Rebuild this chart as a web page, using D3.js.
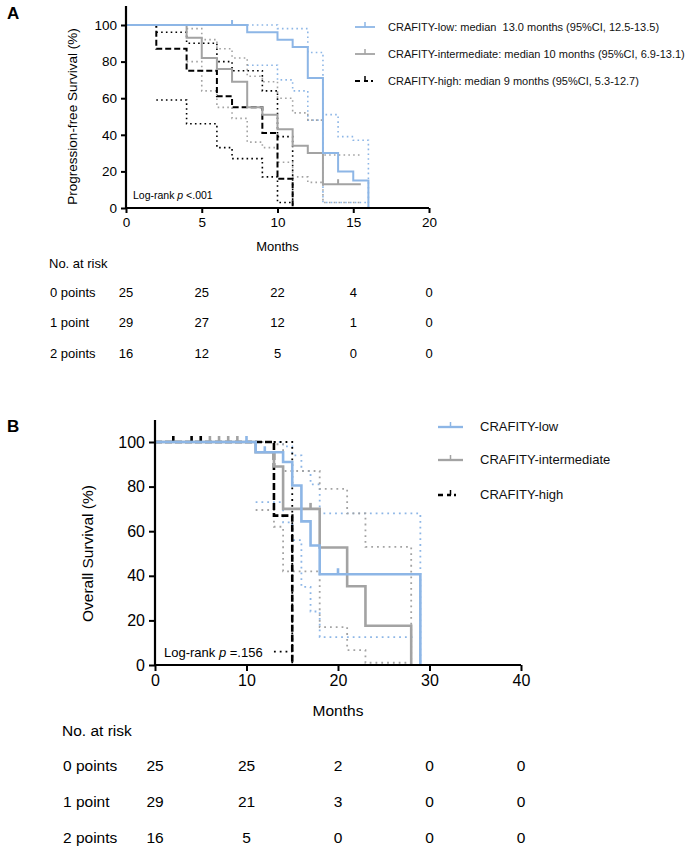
<!DOCTYPE html>
<html><head><meta charset="utf-8">
<script src="https://cdn.jsdelivr.net/npm/d3@7"></script>
<style>
html,body{margin:0;padding:0;background:#fff;}
svg{display:block;font-family:"Liberation Sans",Arial,sans-serif;}
text{white-space:pre;}
</style></head>
<body>
<svg id="chart" width="685" height="853"></svg>
<script>
// ---------- Panel A: Progression-free survival ----------
const pfsLow      = [[0,100],[8,96],[10,92],[11,88],[12,71],[13,30],[14,20],[15,15],[16,0]];
const pfsLowUpper = [[8,100],[10,98],[12,85],[13,51],[14,39],[15,37],[16,0]];
const pfsLowLower = [[8,78],[10,70],[11,64],[12,48],[13,3],[16,3]];
const pfsInt      = [[0,100],[4,93],[5,82],[6,76],[7,69],[8,55],[9,51],[10,43],[11,34],[12,30],[13,13],[15.5,13]];
const pfsIntUpper = [[4,98],[5,92],[6,87],[7,82],[8,72],[9,69],[10,60],[11,52],[12,48],[13,29],[15.5,29]];
const pfsIntLower = [[4,80],[5,64],[6,55],[7,49],[8,36],[9,33],[10,25],[11,17],[12,14],[13,3],[15.5,3]];
const pfsHigh      = [[0,100],[2,87],[4,75],[6,61],[7,55],[9,41],[10,16],[11,0]];
const pfsHighUpper = [[2,96],[4,90],[6,80],[7,75],[9,64],[10,39],[11,0]];
const pfsHighLower = [[2,59],[4,46],[6,33],[7,27],[9,17],[10,3],[11,3]];
const pfsCensorLow = [[7,100]];
const pfsCensorInt = [[14,13]];
const pfsCensorHigh = [];

// ---------- Panel B: Overall survival ----------
const osLow      = [[0,100],[11,95.4],[14,91],[15,80.5],[16,64.4],[17,53.6],[18,40.7],[29,0]];
const osLowUpper = [[11,100],[14,98],[15,94],[16,87],[17,81],[18,68],[29,0]];
const osLowLower = [[11,73],[14,64],[15,56],[16,35],[17,24],[18,12.5],[28.5,12.5]];
const osInt      = [[0,100],[11,95.4],[13,89],[14,70],[18,52.7],[21,35.3],[23,17.6],[28,0]];
const osIntUpper = [[11,100],[13,99],[14,87],[18,79],[21,68],[23,53],[28,0]];
const osIntLower = [[11,69.5],[13,62],[14,42],[18,17],[21,6.7],[23,1],[28,1]];
const osHigh      = [[0,100],[13,67],[15,0]];
const osHighUpper = [[13,100],[15,0]];
const osHighLower = [[13,6],[15,6]];
const osCensorLow  = [[10,100],[12,95.4],[20,40.7]];
const osCensorInt  = [[6,100],[7,100],[8,100],[9,100],[17,70]];
const osCensorHigh = [[2,100],[4,100],[5,100]];

// ---------- Tick labels, legends, risk tables ----------
const yTicks = [0,20,40,60,80,100];
const xTicksA = [0,5,10,15,20];
const xTicksB = [0,10,20,30,40];
const riskGroups = ["0 points","1 point","2 points"];
const riskA = [[25,25,22,4,0],[29,27,12,1,0],[16,12,5,0,0]];
const riskB = [[25,25,2,0,0],[29,21,3,0,0],[16,5,0,0,0]];
const legendA = ["CRAFITY-low: median  13.0 months (95%CI, 12.5-13.5)",
                 "CRAFITY-intermediate: median 10 months (95%CI, 6.9-13.1)",
                 "CRAFITY-high: median 9 months (95%CI, 5.3-12.7)"];
const legendB = ["CRAFITY-low","CRAFITY-intermediate","CRAFITY-high"];

const BLUE = "#8db6e6", GREY = "#a3a3a3", BLACK = "#000";
const svg = d3.select("#chart");

function panel(cfg){
  const g = svg.append("g");
  const x = d3.scaleLinear().domain([0, cfg.xmax]).range([cfg.x0, cfg.x1]);
  const y = d3.scaleLinear().domain([0, 100]).range([cfg.y0, cfg.y1]);
  const line = d3.line().x(d=>x(d[0])).y(d=>y(d[1])).curve(d3.curveStepAfter);

  // CI dotted lines
  cfg.series.forEach(s=>{
    [s.upper, s.lower].forEach(ci=>{
      g.append("path").attr("d", line(ci)).attr("fill","none")
        .attr("stroke", s.ciColor).attr("stroke-width", cfg.ciw)
        .attr("stroke-dasharray", cfg.dot).attr("stroke-linecap","butt");
    });
  });
  // curves
  cfg.series.slice().reverse().forEach(s=>{
    g.append("path").attr("d", line(s.curve)).attr("fill","none")
      .attr("stroke", s.color).attr("stroke-width", cfg.lw)
      .attr("stroke-dasharray", s.dash || null);
    g.selectAll(null).data(s.censor).enter().append("line")
      .attr("x1", d=>x(d[0])).attr("x2", d=>x(d[0]))
      .attr("y1", d=>y(d[1])-cfg.tick).attr("y2", d=>y(d[1]))
      .attr("stroke", s.color).attr("stroke-width", cfg.lw);
  });

  // axes
  const ax = g.append("g").attr("transform", `translate(0,${cfg.y0})`)
    .call(d3.axisBottom(x).tickValues(cfg.xTicks).tickSize(cfg.tickLen).tickPadding(4));
  const ay = g.append("g").attr("transform", `translate(${cfg.x0},0)`)
    .call(d3.axisLeft(y).tickValues(yTicks).tickSize(cfg.tickLen).tickPadding(4));
  [ax, ay].forEach(a=>{
    a.select(".domain").remove();
    a.selectAll("line").attr("stroke","#000").attr("stroke-width",2);
    a.selectAll("text").attr("font-size", cfg.tfs).attr("fill","#000")
      .attr("font-family","Liberation Sans, Arial, sans-serif");
  });
  g.append("line").attr("x1",cfg.x0).attr("x2",cfg.x0).attr("y1",cfg.y0+1).attr("y2",cfg.ytop)
    .attr("stroke","#000").attr("stroke-width",2.2);
  g.append("line").attr("x1",cfg.x0-1).attr("x2",cfg.x1).attr("y1",cfg.y0).attr("y2",cfg.y0)
    .attr("stroke","#000").attr("stroke-width",2.2);

  // axis titles
  g.append("text").attr("x", (cfg.x0+cfg.x1)/2).attr("y", cfg.monthsY)
    .attr("text-anchor","middle").attr("font-size", cfg.mfs).text("Months");
  g.append("text").attr("transform", `translate(${cfg.ylabX},${(cfg.y0+cfg.y1)/2}) rotate(-90)`)
    .attr("text-anchor","middle").attr("font-size", cfg.yfs).text(cfg.ylab);
  // panel letter
  g.append("text").attr("x", cfg.letterX).attr("y", cfg.letterY).attr("font-size", 17)
    .attr("font-weight","bold").text(cfg.letter);
  // log-rank
  const lr = g.append("text").attr("x", cfg.lrX).attr("y", cfg.lrY).attr("font-size", cfg.lrfs);
  lr.append("tspan").text("Log-rank ");
  lr.append("tspan").attr("font-style","italic").text("p");
  lr.append("tspan").text(" " + cfg.lrText);

  // legend
  cfg.legend.forEach((t,i)=>{
    const s = cfg.series[i];
    const ly = cfg.legY[i];
    g.append("line").attr("x1", cfg.legX0).attr("x2", cfg.legX1).attr("y1", ly).attr("y2", ly)
      .attr("stroke", s.color).attr("stroke-width", cfg.lw*0.9)
      .attr("stroke-dasharray", s.dash ? "5,4,4,3,2,10" : null);
    const mx = (cfg.legX0+cfg.legX1)/2;
    g.append("line").attr("x1", mx).attr("x2", mx).attr("y1", ly-5).attr("y2", ly)
      .attr("stroke", s.color).attr("stroke-width", 1.5);
    g.append("text").attr("x", cfg.legTextX).attr("y", ly+4).attr("font-size", cfg.lfs)
      .attr("fill","#111").text(t);
  });

  // risk table
  g.append("text").attr("x", cfg.riskLabX-1).attr("y", cfg.riskHeadY).attr("font-size", cfg.rfs).text("No. at risk");
  cfg.risk.forEach((row,i)=>{
    const ry = cfg.riskRowY[i];
    g.append("text").attr("x", cfg.riskLabX).attr("y", ry).attr("font-size", cfg.rfs).text(riskGroups[i]);
    g.selectAll(null).data(row).enter().append("text")
      .attr("x", (d,j)=>x(cfg.xTicks[j])).attr("y", ry).attr("text-anchor","middle")
      .attr("font-size", cfg.rfs).text(d=>d);
  });
}

panel({
  letter:"A", letterX:7, letterY:19,
  xmax:20, x0:126, x1:429, y0:208, y1:25, ytop:6,
  xTicks:xTicksA, tickLen:5, tfs:13.5, mfs:13, yfs:13.5, monthsY:251,
  ylab:"Progression-free Survival (%)", ylabX:77,
  lw:2, ciw:1.6, dot:"1.6,3.2", tick:5,
  lrX:133, lrY:199, lrfs:10.5, lrText:"<.001",
  legend:legendA, legX0:355, legX1:375, legTextX:388, legY:[27,54,81], lfs:11,
  risk:riskA, riskLabX:50, riskHeadY:268, riskRowY:[297,327,358], rfs:13,
  series:[
    {curve:pfsLow, upper:pfsLowUpper, lower:pfsLowLower, color:BLUE, ciColor:BLUE, censor:pfsCensorLow},
    {curve:pfsInt, upper:pfsIntUpper, lower:pfsIntLower, color:GREY, ciColor:GREY, censor:pfsCensorInt},
    {curve:pfsHigh, upper:pfsHighUpper, lower:pfsHighLower, color:BLACK, ciColor:BLACK, censor:pfsCensorHigh, dash:"6,3"}
  ]
});

panel({
  letter:"B", letterX:7, letterY:432,
  xmax:40, x0:155, x1:521, y0:665, y1:442, ytop:420,
  xTicks:xTicksB, tickLen:6, tfs:16, mfs:15.5, yfs:15.5, monthsY:716,
  ylab:"Overall Survival (%)", ylabX:93,
  lw:2.6, ciw:1.8, dot:"1.8,4", tick:6,
  lrX:164, lrY:657, lrfs:13, lrText:"=.156",
  legend:legendB, legX0:438, legX1:463, legTextX:480, legY:[427,460,495], lfs:13,
  risk:riskB, riskLabX:63, riskHeadY:736, riskRowY:[771,807,843], rfs:15.5,
  series:[
    {curve:osLow, upper:osLowUpper, lower:osLowLower, color:BLUE, ciColor:BLUE, censor:osCensorLow},
    {curve:osInt, upper:osIntUpper, lower:osIntLower, color:GREY, ciColor:GREY, censor:osCensorInt},
    {curve:osHigh, upper:osHighUpper, lower:osHighLower, color:BLACK, ciColor:BLACK, censor:osCensorHigh, dash:"7,3"}
  ]
});
</script>
</body></html>
